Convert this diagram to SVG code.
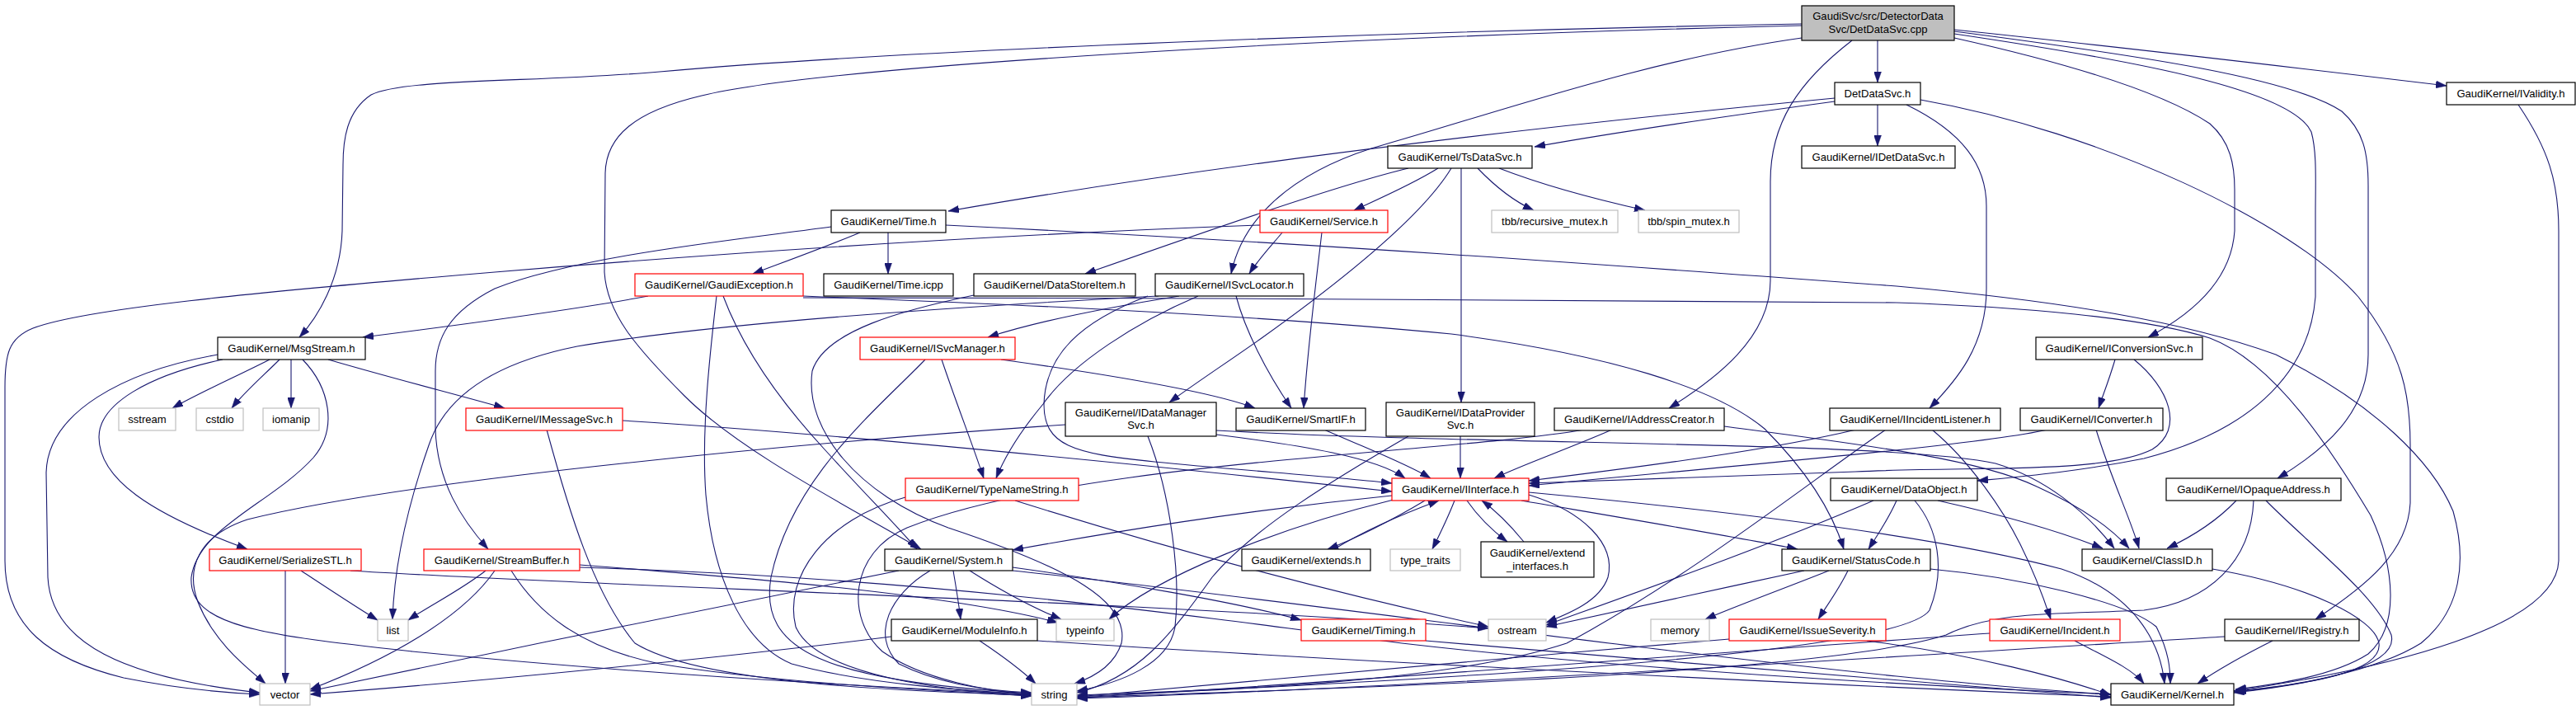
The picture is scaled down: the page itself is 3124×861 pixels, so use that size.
<svg xmlns="http://www.w3.org/2000/svg" width="3124" height="861" viewBox="0 0 3124 861">
<style>
.e path{fill:none;stroke:#191970;stroke-width:1.1;marker-end:url(#a)}
.n rect{fill:#fff;stroke:#000;stroke-width:1.2}
.r rect{fill:#fff;stroke:#ff0000;stroke-width:1.2}
.g rect{fill:#fff;stroke:#bfbfbf;stroke-width:1.2}
.root rect{fill:#bfbfbf;stroke:#000;stroke-width:1.2}
text{font-family:"Liberation Sans",Arial,Helvetica,sans-serif;font-size:13.1px;text-anchor:middle;fill:#000}
</style>
<defs>
<marker id="a" viewBox="0 0 13 9" refX="13" refY="4.5" markerWidth="13" markerHeight="9" markerUnits="userSpaceOnUse" orient="auto">
<path d="M0,0 L13,4.5 L0,9 z" fill="#191970" stroke="#191970" stroke-width="0.5"/>
</marker>
</defs>
<rect width="3124" height="861" fill="#fff"/>
<g id="edges" class="e">
<path d="M2277,49 L2277,100"/>
<path d="M2370,36 C2600,60 2850,90 2967,104"/>
<path d="M2185,29 C1700,38 1100,60 800,87 C650,100 490,95 450,115 C420,135 416,170 416,200 L415,280 C413,340 385,385 363,409"/>
<path d="M2185,31 C1600,45 1000,80 851,116 C770,135 735,165 734,210 L733,330 C736,380 770,420 830,480 C900,550 1040,620 1117,666"/>
<path d="M2185,46 C2000,72 1820,135 1680,175 C1590,200 1510,250 1493,332"/>
<path d="M2246,49 C2180,100 2147,150 2147,220 L2147,340 C2147,410 2080,460 2024,495"/>
<path d="M2370,46 C2500,75 2620,110 2680,150 C2705,172 2710,200 2710,230 L2710,280 C2706,340 2660,380 2605,409"/>
<path d="M2370,41 C2600,75 2780,110 2803,160 C2810,185 2808,220 2808,260 L2808,360 C2800,460 2720,525 2600,556 C2520,572 2450,578 2398,583"/>
<path d="M2370,38 C2600,68 2780,95 2840,135 C2866,158 2872,185 2872,225 L2872,430 C2872,500 2820,545 2762,580"/>
<path d="M2225,123 C2100,140 1950,162 1861,178"/>
<path d="M2225,119 C1900,150 1500,195 1150,256"/>
<path d="M2277,127 L2277,177"/>
<path d="M2312,127 C2380,160 2409,200 2409,250 L2409,350 C2409,420 2372,462 2340,495"/>
<path d="M2329,121 C2550,160 2780,270 2860,360 C2915,430 2923,480 2923,540 L2923,610 C2920,670 2870,710 2808,751"/>
<path d="M1708,204 C1620,225 1450,285 1316,332"/>
<path d="M1744,204 C1710,225 1670,242 1642,255"/>
<path d="M1760,204 C1720,270 1600,360 1530,410 C1480,445 1445,468 1418,488"/>
<path d="M1772,204 L1772,488"/>
<path d="M1792,204 C1815,228 1838,245 1860,255"/>
<path d="M1818,204 C1880,228 1950,245 1995,255"/>
<path d="M1043,282 C1000,300 950,318 913,332"/>
<path d="M1077,282 L1077,332"/>
<path d="M1008,275 C900,290 700,310 600,350 C545,378 528,410 528,450 L528,520 C530,585 560,630 592,666"/>
<path d="M1147,273 C1600,295 2000,325 2300,347 C2500,365 2650,390 2760,430 C2880,490 2950,560 2975,620 C2992,680 2985,740 2936,780 C2880,815 2780,832 2711,839"/>
<path d="M1555,282 C1540,300 1525,316 1515,332"/>
<path d="M1603,282 C1595,350 1586,420 1581,495"/>
<path d="M1528,273 C1200,285 900,305 600,330 C300,355 100,375 40,398 C10,410 6,430 6,470 L6,680 C6,760 60,800 150,822 C220,836 270,840 315,842"/>
<path d="M786,359 C700,375 550,395 440,409"/>
<path d="M877,359 C900,420 940,480 1000,545 C1050,600 1090,640 1112,666"/>
<path d="M869,359 C862,420 850,520 856,600 C865,700 900,780 960,805 C1050,830 1180,838 1251,842"/>
<path d="M974,359 C1200,368 1500,380 1760,405 C1950,430 2080,470 2140,520 C2190,570 2222,620 2236,666"/>
<path d="M974,361 C1400,362 2000,362 2300,367 C2450,372 2600,385 2680,410 C2760,440 2830,550 2875,625 C2905,690 2910,760 2872,793 C2830,820 2760,830 2711,836"/>
<path d="M1181,358 C1100,375 1000,400 985,450 C975,520 1040,600 1150,640 C1300,690 1370,730 1360,780 C1352,805 1330,820 1303,829"/>
<path d="M1405,359 C1100,375 850,395 700,420 C600,440 540,480 520,540 C492,620 478,690 476,751"/>
<path d="M1430,359 C1330,375 1250,392 1198,409"/>
<path d="M1392,359 C1310,390 1268,430 1266,490 C1266,540 1300,550 1400,560 C1500,570 1620,578 1688,586"/>
<path d="M1453,359 C1380,390 1300,440 1265,490 C1240,520 1220,550 1208,580"/>
<path d="M1499,359 C1510,400 1535,450 1566,495"/>
<path d="M327,436 C290,455 240,477 209,495"/>
<path d="M339,436 C320,455 295,477 281,495"/>
<path d="M353,436 L353,495"/>
<path d="M398,436 C480,460 560,480 612,495"/>
<path d="M270,436 C180,455 120,490 120,530 C120,580 180,622 300,666"/>
<path d="M264,430 C150,450 58,500 56,573 L58,700 C62,780 150,822 315,840"/>
<path d="M367,436 C400,470 410,520 380,555 C330,610 240,640 232,700 C228,760 320,770 500,790 C800,820 1100,835 1251,842"/>
<path d="M1142,436 C1160,490 1180,540 1193,580"/>
<path d="M1214,436 C1350,455 1470,475 1522,495"/>
<path d="M1122,436 C1060,500 960,580 935,700 C920,790 1000,825 1251,841"/>
<path d="M2565,436 C2558,460 2550,480 2545,495"/>
<path d="M2588,436 C2630,470 2650,520 2610,545 C2550,575 2400,565 2250,572 C2100,578 1950,582 1854,586"/>
<path d="M755,510 C1000,525 1400,565 1688,596"/>
<path d="M663,521 C690,620 720,720 770,780 C850,830 1100,838 1251,843"/>
<path d="M1475,527 C1580,540 1670,555 1704,580"/>
<path d="M1475,522 C1800,540 2300,535 2420,562 C2480,580 2530,620 2564,665"/>
<path d="M1292,515 C1000,535 500,580 300,630 C240,650 225,690 240,730 C260,780 300,810 322,829"/>
<path d="M1392,529 C1420,600 1432,700 1425,760 C1418,805 1360,828 1306,838"/>
<path d="M1606,521 C1660,545 1705,562 1735,580"/>
<path d="M1771,529 L1771,580"/>
<path d="M1708,529 C1620,580 1520,640 1470,700 C1420,770 1380,822 1306,840"/>
<path d="M1955,521 C1900,545 1850,562 1812,580"/>
<path d="M1922,521 C1750,550 1300,560 1100,640 C1030,670 1025,750 1070,790 C1120,825 1200,838 1251,843"/>
<path d="M2091,517 C2250,538 2400,556 2470,590 C2525,615 2560,640 2582,665"/>
<path d="M2251,521 C2150,545 2000,565 1854,583"/>
<path d="M2343,521 C2390,560 2430,620 2450,660 C2470,700 2480,730 2487,751"/>
<path d="M2287,521 C2200,580 2050,700 1900,780 C1750,830 1450,838 1306,843"/>
<path d="M2542,521 C2560,580 2585,632 2594,665"/>
<path d="M2483,521 C2400,540 2100,565 1854,589"/>
<path d="M1098,603 C1000,630 950,700 965,760 C990,820 1150,838 1251,844"/>
<path d="M1231,607 C1400,660 1600,715 1805,760"/>
<path d="M1688,601 C1500,620 1350,645 1228,667"/>
<path d="M1728,607 C1690,630 1640,655 1610,666"/>
<path d="M1618,666 C1660,640 1710,620 1745,607"/>
<path d="M1764,607 C1755,630 1745,650 1737,666"/>
<path d="M1779,607 C1795,630 1812,645 1828,657"/>
<path d="M1848,657 C1830,635 1815,620 1797,607"/>
<path d="M1854,600 C1920,620 1960,660 1950,700 C1940,730 1900,745 1875,755"/>
<path d="M1845,607 C1950,625 2100,650 2180,666"/>
<path d="M1854,597 C2100,620 2350,650 2500,690 C2590,720 2620,780 2625,829"/>
<path d="M1690,606 C1550,640 1400,700 1345,751"/>
<path d="M2272,607 C2150,660 1980,720 1875,758"/>
<path d="M2300,607 C2290,630 2276,650 2266,666"/>
<path d="M2322,607 C2350,640 2360,690 2340,740 C2300,800 1600,830 1306,845"/>
<path d="M2350,607 C2430,625 2500,645 2550,665"/>
<path d="M2712,607 C2690,630 2660,650 2628,665"/>
<path d="M2733,607 C2730,680 2680,730 2600,740 C2500,745 2420,740 2360,770 C2200,820 1600,835 1306,846"/>
<path d="M2748,607 C2800,660 2880,720 2900,770 C2910,810 2800,830 2709,840"/>
<path d="M365,692 C400,715 430,735 458,752"/>
<path d="M346,692 L346,829"/>
<path d="M425,692 C700,710 1400,730 1805,762"/>
<path d="M589,692 C560,715 520,735 495,752"/>
<path d="M600,692 C560,750 470,800 376,836"/>
<path d="M620,692 C650,740 700,785 800,805 C950,830 1150,838 1251,844"/>
<path d="M703,685 C900,700 1150,720 1283,755"/>
<path d="M703,688 C1100,700 1400,740 1700,780 C2000,815 2400,835 2560,842"/>
<path d="M1156,692 C1160,715 1163,735 1165,751"/>
<path d="M1176,692 C1220,720 1260,740 1287,751"/>
<path d="M1128,692 C1080,720 1055,770 1090,805 C1140,830 1200,838 1251,840"/>
<path d="M1090,692 C950,720 600,790 376,838"/>
<path d="M1228,688 C1350,705 1500,730 1578,752"/>
<path d="M1228,692 C1500,720 2000,790 2300,820 C2450,835 2520,840 2560,842"/>
<path d="M1188,777 C1215,795 1238,812 1256,829"/>
<path d="M1081,772 C900,795 600,825 376,842"/>
<path d="M1258,777 C1600,800 2200,830 2560,845"/>
<path d="M1729,777 C2000,800 2350,830 2560,846"/>
<path d="M2188,692 C2080,715 1960,742 1875,760"/>
<path d="M2218,692 C2160,715 2100,737 2068,751"/>
<path d="M2241,692 C2230,715 2215,735 2205,751"/>
<path d="M2341,690 C2450,700 2580,730 2615,760 C2630,790 2632,810 2632,829"/>
<path d="M2683,690 C2800,710 2880,750 2885,780 C2890,815 2800,830 2709,838"/>
<path d="M2097,775 C1800,800 1450,832 1306,845"/>
<path d="M2264,777 C2400,795 2500,822 2560,843"/>
<path d="M2516,777 C2550,795 2585,810 2600,829"/>
<path d="M2413,768 C2100,790 1600,830 1306,846"/>
<path d="M2756,777 C2720,795 2690,812 2665,829"/>
<path d="M2698,772 C2400,790 1700,835 1306,847"/>
<path d="M3054,127 C3090,180 3103,220 3103,280 L3103,680 C3100,760 2900,810 2709,838"/>
</g>
<g id="n_root" class="root"><rect x="2185" y="7" width="185" height="42"/><text x="2277.5" y="24">GaudiSvc/src/DetectorData</text><text x="2277.5" y="40">Svc/DetDataSvc.cpp</text></g>
<g id="n_DetDataSvc_h" class="n"><rect x="2225" y="100" width="104" height="27"/><text x="2277" y="118">DetDataSvc.h</text></g>
<g id="n_IValidity" class="n"><rect x="2967" y="100" width="156" height="27"/><text x="3045" y="118">GaudiKernel/IValidity.h</text></g>
<g id="n_TsDataSvc" class="n"><rect x="1683" y="177" width="175" height="27"/><text x="1770.5" y="195">GaudiKernel/TsDataSvc.h</text></g>
<g id="n_IDetDataSvc" class="n"><rect x="2185" y="177" width="186" height="27"/><text x="2278" y="195">GaudiKernel/IDetDataSvc.h</text></g>
<g id="n_Time" class="n"><rect x="1008" y="255" width="139" height="27"/><text x="1077.5" y="273">GaudiKernel/Time.h</text></g>
<g id="n_Service" class="r"><rect x="1528" y="255" width="155" height="27"/><text x="1605.5" y="273">GaudiKernel/Service.h</text></g>
<g id="n_recursive_mutex" class="g"><rect x="1809" y="255" width="153" height="27"/><text x="1885.5" y="273">tbb/recursive_mutex.h</text></g>
<g id="n_spin_mutex" class="g"><rect x="1987" y="255" width="122" height="27"/><text x="2048" y="273">tbb/spin_mutex.h</text></g>
<g id="n_GaudiException" class="r"><rect x="770" y="332" width="204" height="27"/><text x="872" y="350">GaudiKernel/GaudiException.h</text></g>
<g id="n_Time_icpp" class="n"><rect x="999" y="332" width="157" height="27"/><text x="1077.5" y="350">GaudiKernel/Time.icpp</text></g>
<g id="n_DataStoreItem" class="n"><rect x="1181" y="332" width="196" height="27"/><text x="1279" y="350">GaudiKernel/DataStoreItem.h</text></g>
<g id="n_ISvcLocator" class="n"><rect x="1401" y="332" width="180" height="27"/><text x="1491" y="350">GaudiKernel/ISvcLocator.h</text></g>
<g id="n_MsgStream" class="n"><rect x="264" y="409" width="179" height="27"/><text x="353.5" y="427">GaudiKernel/MsgStream.h</text></g>
<g id="n_ISvcManager" class="r"><rect x="1043" y="409" width="188" height="27"/><text x="1137" y="427">GaudiKernel/ISvcManager.h</text></g>
<g id="n_IConversionSvc" class="n"><rect x="2469" y="409" width="202" height="27"/><text x="2570" y="427">GaudiKernel/IConversionSvc.h</text></g>
<g id="n_sstream" class="g"><rect x="144" y="495" width="69" height="27"/><text x="178.5" y="513">sstream</text></g>
<g id="n_cstdio" class="g"><rect x="238" y="495" width="57" height="27"/><text x="266.5" y="513">cstdio</text></g>
<g id="n_iomanip" class="g"><rect x="319" y="495" width="68" height="27"/><text x="353" y="513">iomanip</text></g>
<g id="n_IMessageSvc" class="r"><rect x="565" y="495" width="190" height="27"/><text x="660" y="513">GaudiKernel/IMessageSvc.h</text></g>
<g id="n_IDataManagerSvc" class="n"><rect x="1292" y="488" width="183" height="41"/><text x="1383.5" y="505">GaudiKernel/IDataManager</text><text x="1383.5" y="520">Svc.h</text></g>
<g id="n_SmartIF" class="n"><rect x="1499" y="495" width="157" height="27"/><text x="1577.5" y="513">GaudiKernel/SmartIF.h</text></g>
<g id="n_IDataProviderSvc" class="n"><rect x="1681" y="488" width="180" height="41"/><text x="1771" y="505">GaudiKernel/IDataProvider</text><text x="1771" y="520">Svc.h</text></g>
<g id="n_IAddressCreator" class="n"><rect x="1885" y="495" width="206" height="27"/><text x="1988" y="513">GaudiKernel/IAddressCreator.h</text></g>
<g id="n_IIncidentListener" class="n"><rect x="2219" y="495" width="207" height="27"/><text x="2322.5" y="513">GaudiKernel/IIncidentListener.h</text></g>
<g id="n_IConverter" class="n"><rect x="2450" y="495" width="173" height="27"/><text x="2536.5" y="513">GaudiKernel/IConverter.h</text></g>
<g id="n_TypeNameString" class="r"><rect x="1098" y="580" width="210" height="27"/><text x="1203" y="598">GaudiKernel/TypeNameString.h</text></g>
<g id="n_IInterface" class="r"><rect x="1688" y="580" width="166" height="27"/><text x="1771" y="598">GaudiKernel/IInterface.h</text></g>
<g id="n_DataObject" class="n"><rect x="2220" y="580" width="178" height="27"/><text x="2309" y="598">GaudiKernel/DataObject.h</text></g>
<g id="n_IOpaqueAddress" class="n"><rect x="2627" y="580" width="212" height="27"/><text x="2733" y="598">GaudiKernel/IOpaqueAddress.h</text></g>
<g id="n_SerializeSTL" class="r"><rect x="254" y="666" width="184" height="26"/><text x="346" y="684">GaudiKernel/SerializeSTL.h</text></g>
<g id="n_StreamBuffer" class="r"><rect x="514" y="666" width="189" height="26"/><text x="608.5" y="684">GaudiKernel/StreamBuffer.h</text></g>
<g id="n_System" class="n"><rect x="1073" y="666" width="155" height="26"/><text x="1150.5" y="684">GaudiKernel/System.h</text></g>
<g id="n_extends" class="n"><rect x="1506" y="666" width="156" height="26"/><text x="1584" y="684">GaudiKernel/extends.h</text></g>
<g id="n_type_traits" class="g"><rect x="1686" y="666" width="85" height="26"/><text x="1728.5" y="684">type_traits</text></g>
<g id="n_extend_interfaces" class="n"><rect x="1796" y="657" width="137" height="43"/><text x="1864.5" y="675">GaudiKernel/extend</text><text x="1864.5" y="691">_interfaces.h</text></g>
<g id="n_StatusCode" class="n"><rect x="2161" y="666" width="180" height="26"/><text x="2251" y="684">GaudiKernel/StatusCode.h</text></g>
<g id="n_ClassID" class="n"><rect x="2525" y="666" width="158" height="26"/><text x="2604" y="684">GaudiKernel/ClassID.h</text></g>
<g id="n_list" class="g"><rect x="458" y="751" width="37" height="26"/><text x="476.5" y="769">list</text></g>
<g id="n_ModuleInfo" class="n"><rect x="1081" y="751" width="177" height="26"/><text x="1169.5" y="769">GaudiKernel/ModuleInfo.h</text></g>
<g id="n_typeinfo" class="g"><rect x="1281" y="751" width="70" height="26"/><text x="1316" y="769">typeinfo</text></g>
<g id="n_Timing" class="r"><rect x="1578" y="751" width="151" height="26"/><text x="1653.5" y="769">GaudiKernel/Timing.h</text></g>
<g id="n_ostream" class="g"><rect x="1805" y="751" width="70" height="26"/><text x="1840" y="769">ostream</text></g>
<g id="n_memory" class="g"><rect x="2002" y="751" width="71" height="26"/><text x="2037.5" y="769">memory</text></g>
<g id="n_IssueSeverity" class="r"><rect x="2097" y="751" width="190" height="26"/><text x="2192" y="769">GaudiKernel/IssueSeverity.h</text></g>
<g id="n_Incident" class="r"><rect x="2413" y="751" width="158" height="26"/><text x="2492" y="769">GaudiKernel/Incident.h</text></g>
<g id="n_IRegistry" class="n"><rect x="2698" y="751" width="163" height="26"/><text x="2779.5" y="769">GaudiKernel/IRegistry.h</text></g>
<g id="n_vector" class="g"><rect x="315" y="829" width="61" height="26"/><text x="345.5" y="847">vector</text></g>
<g id="n_string" class="g"><rect x="1251" y="829" width="55" height="26"/><text x="1278.5" y="847">string</text></g>
<g id="n_Kernel" class="n"><rect x="2560" y="829" width="149" height="26"/><text x="2634.5" y="847">GaudiKernel/Kernel.h</text></g>
</svg>
